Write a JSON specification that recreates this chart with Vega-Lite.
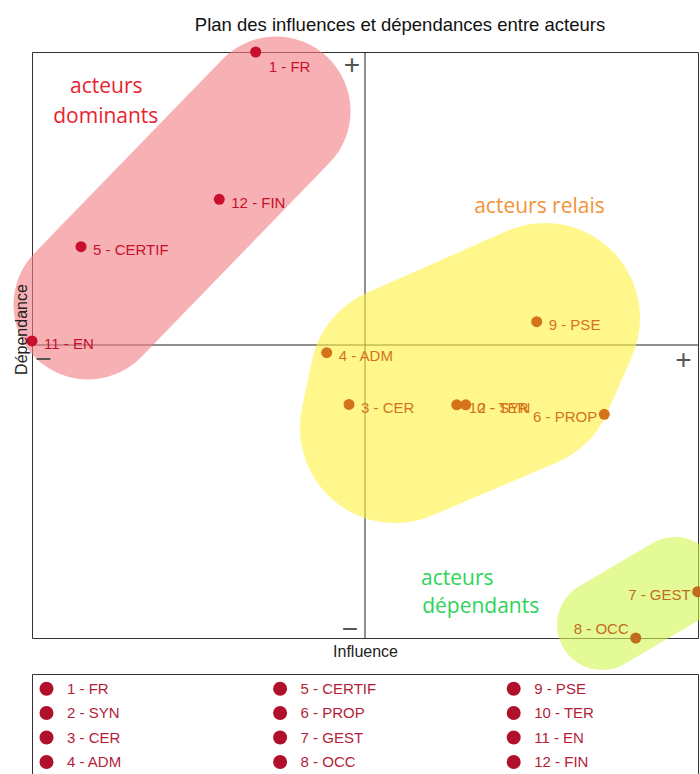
{
  "$schema": "https://vega.github.io/schema/vega-lite/v6.json",
  "width": 666,
  "height": 586,
  "autosize": {"type": "none"},
  "padding": {"left": 32, "top": 52, "right": 2, "bottom": 136},
  "background": "white",
  "title": {"text": "Plan des influences et dépendances entre acteurs", "font": "Liberation Sans", "fontSize": 18.5, "fontWeight": "normal", "color": "#111", "anchor": "middle", "dx": 35, "offset": 2},
  "config": {
    "view": {"stroke": "#333", "strokeWidth": 1},
    "axis": {"labels": false, "ticks": false, "domain": false, "grid": false, "titleFont": "Liberation Sans", "titleFontSize": 16, "titleFontWeight": "normal", "titleColor": "#222"},
    "axisX": {"titlePadding": 5},
    "axisY": {"titlePadding": 3, "titleY": 277}
  },
  "datasets": {
    "actors": [
      {"label": "1 - FR", "x": 33.59, "y": 100, "group": "dominant"},
      {"label": "2 - SYN", "x": 65.12, "y": 39.8, "group": "relais"},
      {"label": "3 - CER", "x": 47.6, "y": 39.85, "group": "relais"},
      {"label": "4 - ADM", "x": 44.25, "y": 48.69, "group": "relais"},
      {"label": "5 - CERTIF", "x": 7.36, "y": 66.78, "group": "dominant"},
      {"label": "6 - PROP", "x": 85.93, "y": 38.17, "group": "relais"},
      {"label": "7 - GEST", "x": 99.95, "y": 7.9, "group": "dependant"},
      {"label": "8 - OCC", "x": 90.65, "y": 0, "group": "dependant"},
      {"label": "9 - PSE", "x": 75.78, "y": 53.98, "group": "relais"},
      {"label": "10 - TER", "x": 63.77, "y": 39.8, "group": "relais"},
      {"label": "11 - EN", "x": 0, "y": 50.7, "group": "dominant"},
      {"label": "12 - FIN", "x": 28.12, "y": 74.86, "group": "dominant"}
    ],
    "pink": [
      {"o": 1, "x": 8.41, "y": 56.83},
      {"o": 2, "x": 36.64, "y": 89.93}
    ],
    "yellow": [
      {"o": 1, "x": 56.0, "y": 44.03},
      {"o": 2, "x": 54.5, "y": 35.84},
      {"o": 3, "x": 73.27, "y": 44.88},
      {"o": 4, "x": 77.03, "y": 54.61},
      {"o": 5, "x": 56.0, "y": 44.03}
    ],
    "green": [
      {"o": 1, "x": 85.59, "y": 2.22},
      {"o": 2, "x": 96.55, "y": 9.56}
    ],
    "signs": [
      {"sign": "+", "x": 48.05, "y": 97.61},
      {"sign": "−", "x": 47.75, "y": 1.3},
      {"sign": "+", "x": 97.82, "y": 47.35},
      {"sign": "−", "x": 1.73, "y": 47.4}
    ],
    "groups": [
      {"text": "acteurs", "group": "dominant", "x": 11.16, "y": 93.05},
      {"text": "dominants", "group": "dominant", "x": 11.08, "y": 87.83},
      {"text": "acteurs relais", "group": "relais", "x": 76.2, "y": 72.53},
      {"text": "acteurs", "group": "dependant", "x": 63.86, "y": 9.04},
      {"text": "dépendants", "group": "dependant", "x": 67.37, "y": 4.35}
    ]
  },
  "layer": [
    {
      "data": {"values": [{}]},
      "mark": {"type": "rule", "color": "#222", "strokeWidth": 1},
      "encoding": {"x": {"datum": 50, "type": "quantitative", "scale": {"domain": [0, 100], "nice": false, "zero": false}, "title": "Influence", "axis": {"zindex": 1}}}
    },
    {
      "data": {"values": [{}]},
      "mark": {"type": "rule", "color": "#222", "strokeWidth": 1},
      "encoding": {"y": {"datum": 50, "type": "quantitative", "scale": {"domain": [0, 100], "nice": false, "zero": false}, "title": "Dépendance", "axis": {"zindex": 1}}}
    },
    {
      "data": {"name": "pink"},
      "mark": {"type": "line", "color": "#f27b82", "strokeWidth": 149, "strokeCap": "round", "strokeJoin": "round", "opacity": 0.6},
      "encoding": {
        "x": {"field": "x", "type": "quantitative", "scale": {"domain": [0, 100], "nice": false, "zero": false}, "title": "Influence", "axis": {"zindex": 1}},
        "y": {"field": "y", "type": "quantitative", "scale": {"domain": [0, 100], "nice": false, "zero": false}, "title": "Dépendance", "axis": {"zindex": 1}},
        "order": {"field": "o", "type": "quantitative"}
      }
    },
    {
      "data": {"name": "yellow"},
      "mark": {"type": "line", "color": "#fff23f", "strokeWidth": 190, "strokeCap": "round", "strokeJoin": "round", "opacity": 0.6},
      "encoding": {
        "x": {"field": "x", "type": "quantitative", "title": "Influence", "axis": {"zindex": 1}},
        "y": {"field": "y", "type": "quantitative", "title": "Dépendance", "axis": {"zindex": 1}},
        "order": {"field": "o", "type": "quantitative"}
      }
    },
    {
      "data": {"name": "green"},
      "mark": {"type": "line", "color": "#d2f750", "strokeWidth": 90, "strokeCap": "round", "strokeJoin": "round", "opacity": 0.6},
      "encoding": {
        "x": {"field": "x", "type": "quantitative", "title": "Influence", "axis": {"zindex": 1}},
        "y": {"field": "y", "type": "quantitative", "title": "Dépendance", "axis": {"zindex": 1}},
        "order": {"field": "o", "type": "quantitative"}
      }
    },
    {
      "data": {"name": "signs"},
      "mark": {"type": "text", "font": "Liberation Sans", "fontSize": 28, "color": "#555", "align": "center", "baseline": "middle"},
      "encoding": {
        "x": {"field": "x", "type": "quantitative", "title": "Influence", "axis": {"zindex": 1}},
        "y": {"field": "y", "type": "quantitative", "title": "Dépendance", "axis": {"zindex": 1}},
        "text": {"field": "sign"}
      }
    },
    {
      "data": {"name": "groups"},
      "mark": {"type": "text", "font": "Open Sans", "fontSize": 21, "align": "center", "baseline": "alphabetic"},
      "encoding": {
        "x": {"field": "x", "type": "quantitative", "title": "Influence", "axis": {"zindex": 1}},
        "y": {"field": "y", "type": "quantitative", "title": "Dépendance", "axis": {"zindex": 1}},
        "text": {"field": "text"},
        "fill": {"field": "group", "type": "nominal", "scale": {"domain": ["dominant", "relais", "dependant"], "range": ["#e8232f", "#f39237", "#2fd35a"]}, "legend": null}
      }
    },
    {
      "data": {"name": "actors"},
      "mark": {"type": "point", "filled": true, "size": 121, "opacity": 1},
      "encoding": {
        "x": {"field": "x", "type": "quantitative", "title": "Influence", "axis": {"zindex": 1}},
        "y": {"field": "y", "type": "quantitative", "title": "Dépendance", "axis": {"zindex": 1}},
        "color": {"field": "group", "type": "nominal", "scale": {"domain": ["dominant", "relais", "dependant"], "range": ["#c8102e", "#d4731a", "#c06c1e"]}, "legend": null},
        "shape": {
          "field": "label", "type": "nominal",
          "scale": {"domain": ["1 - FR", "5 - CERTIF", "9 - PSE", "2 - SYN", "6 - PROP", "10 - TER", "3 - CER", "7 - GEST", "11 - EN", "4 - ADM", "8 - OCC", "12 - FIN"], "range": ["circle", "circle", "circle", "circle", "circle", "circle", "circle", "circle", "circle", "circle", "circle", "circle"]},
          "legend": {
            "orient": "none", "legendX": 0, "legendY": 622, "columns": 3, "direction": "horizontal", "title": null,
            "gridAlign": "all", "columnPadding": 33.6, "rowPadding": 8.5, "padding": 7,
            "strokeColor": "#333",
            "symbolType": "circle", "symbolSize": 196, "symbolFillColor": "#b0102a", "symbolStrokeColor": "#b0102a", "symbolStrokeWidth": 0, "symbolOpacity": 1,
            "labelFont": "Liberation Sans", "labelFontSize": 15, "labelColor": "#b51c38", "labelOffset": 13, "labelLimit": 400,
            "labelExpr": "datum.label + '\u00a0\u00a0\u00a0\u00a0\u00a0\u00a0\u00a0\u00a0\u00a0\u00a0\u00a0\u00a0\u00a0\u00a0\u00a0\u00a0\u00a0\u00a0\u00a0\u00a0\u00a0\u00a0\u00a0\u200b'"
          }
        }
      }
    },
    {
      "data": {"name": "actors"},
      "transform": [{"filter": {"not": {"field": "label", "oneOf": ["1 - FR", "6 - PROP", "7 - GEST", "8 - OCC"]}}}],
      "mark": {"type": "text", "font": "Liberation Sans", "fontSize": 15, "align": "left", "baseline": "alphabetic", "dx": 12, "dy": 8.5},
      "encoding": {
        "x": {"field": "x", "type": "quantitative", "title": "Influence", "axis": {"zindex": 1}},
        "y": {"field": "y", "type": "quantitative", "title": "Dépendance", "axis": {"zindex": 1}},
        "text": {"field": "label"},
        "color": {"field": "group", "type": "nominal", "scale": {"domain": ["dominant", "relais", "dependant"], "range": ["#c8102e", "#d4731a", "#c06c1e"]}, "legend": null}
      }
    },
    {
      "data": {"name": "actors"},
      "transform": [{"filter": {"field": "label", "equal": "1 - FR"}}],
      "mark": {"type": "text", "font": "Liberation Sans", "fontSize": 15, "align": "left", "baseline": "alphabetic", "dx": 13, "dy": 20},
      "encoding": {
        "x": {"field": "x", "type": "quantitative", "title": "Influence", "axis": {"zindex": 1}},
        "y": {"field": "y", "type": "quantitative", "title": "Dépendance", "axis": {"zindex": 1}},
        "text": {"field": "label"},
        "color": {"field": "group", "type": "nominal", "scale": {"domain": ["dominant", "relais", "dependant"], "range": ["#c8102e", "#d4731a", "#c06c1e"]}, "legend": null}
      }
    },
    {
      "data": {"name": "actors"},
      "transform": [{"filter": {"field": "label", "oneOf": ["6 - PROP", "7 - GEST"]}}],
      "mark": {"type": "text", "font": "Liberation Sans", "fontSize": 15, "align": "right", "baseline": "alphabetic", "dx": -7, "dy": 8},
      "encoding": {
        "x": {"field": "x", "type": "quantitative", "title": "Influence", "axis": {"zindex": 1}},
        "y": {"field": "y", "type": "quantitative", "title": "Dépendance", "axis": {"zindex": 1}},
        "text": {"field": "label"},
        "color": {"field": "group", "type": "nominal", "scale": {"domain": ["dominant", "relais", "dependant"], "range": ["#c8102e", "#d4731a", "#c06c1e"]}, "legend": null}
      }
    },
    {
      "data": {"name": "actors"},
      "transform": [{"filter": {"field": "label", "equal": "8 - OCC"}}],
      "mark": {"type": "text", "font": "Liberation Sans", "fontSize": 15, "align": "right", "baseline": "alphabetic", "dx": -7, "dy": -4},
      "encoding": {
        "x": {"field": "x", "type": "quantitative", "title": "Influence", "axis": {"zindex": 1}},
        "y": {"field": "y", "type": "quantitative", "title": "Dépendance", "axis": {"zindex": 1}},
        "text": {"field": "label"},
        "color": {"field": "group", "type": "nominal", "scale": {"domain": ["dominant", "relais", "dependant"], "range": ["#c8102e", "#d4731a", "#c06c1e"]}, "legend": null}
      }
    }
  ]
}
